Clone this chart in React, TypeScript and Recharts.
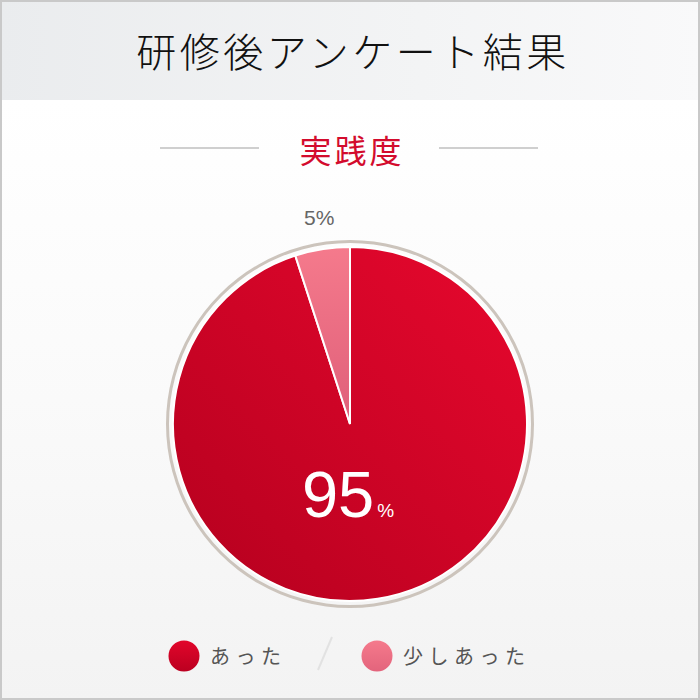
import { PieChart, Pie, Cell, Legend } from "recharts";

const title = "研修後アンケート結果";
const subtitle = "実践度";
const categories = ["あった", "少しあった"];
const values = [95, 5];
const ringValue = [1];

const fills = ["url(#gradMain)", "url(#gradSub)"];
const swatch = ["url(#gradMainDot)", "url(#gradSubDot)"];

const data = categories.map((name, i) => ({ name, value: values[i] }));
const ringData = ringValue.map((value) => ({ name: "ring", value }));

const RAD = Math.PI / 180;
const FONT = "'Noto Sans CJK JP', 'Noto Sans', sans-serif";

function renderLabel(props: any) {
  const { cx, cy, midAngle, index, value } = props;
  if (index === 0) {
    return (
      <text
        x={cx - 2}
        y={cy + 93}
        textAnchor="middle"
        fill="#ffffff"
        fontFamily="'Liberation Sans', Arial, sans-serif"
      >
        <tspan fontSize={65}>{value}</tspan>
        <tspan fontSize={19} dx={3}>%</tspan>
      </text>
    );
  }
  const r = 209;
  const x = cx + r * Math.cos(-midAngle * RAD);
  const y = cy + r * Math.sin(-midAngle * RAD);
  return (
    <text
      x={x + 2}
      y={y}
      textAnchor="middle"
      dominantBaseline="central"
      fill="#666"
      fontSize={21}
      fontFamily="'Liberation Sans', Arial, sans-serif"
    >
      {value}%
    </text>
  );
}

function LegendBody() {
  return (
    <div
      style={{
        display: "flex",
        alignItems: "center",
        fontFamily: FONT,
        fontSize: 20,
        color: "#555",
        letterSpacing: 5.5,
        height: 40,
        position: "relative",
      }}
    >
      {categories.map((name, i) => (
        <div
          key={name}
          style={{
            position: "absolute",
            left: i === 0 ? 168 : 361,
            top: 4,
            display: "flex",
            alignItems: "center",
          }}
        >
          <svg width={32} height={32} style={{ marginRight: 10 }}>
            <circle cx={16} cy={16} r={15.5} fill={swatch[i]} />
          </svg>
          <span style={{ lineHeight: "32px" }}>{name}</span>
        </div>
      ))}
      <svg
        width={20}
        height={40}
        style={{ position: "absolute", left: 315, top: 0 }}
      >
        <line x1={17} y1={1} x2={3} y2={34} stroke="#e2e2e2" strokeWidth={2} />
      </svg>
    </div>
  );
}

export default function App() {
  return (
    <div
      style={{
        position: "fixed",
        top: 0,
        left: 0,
        width: 700,
        height: 700,
        overflow: "hidden",
        background: "linear-gradient(180deg, #ffffff 100px, #fafafa 400px, #f3f3f3 700px)",
      }}
    >
      <div
        style={{
          position: "absolute",
          top: 0,
          left: 0,
          width: 700,
          height: 100,
          background: "linear-gradient(90deg, #eaecee 0%, #f3f4f5 60%, #f9f9fa 100%)",
        }}
      />
      <div
        style={{
          position: "absolute",
          top: 24,
          left: 0,
          width: 700,
          textAlign: "center",
          fontFamily: FONT,
          fontSize: 40,
          fontWeight: 300,
          lineHeight: "52px",
          letterSpacing: 3.5,
          color: "#111",
          paddingLeft: 3,
        }}
      >
        {title}
      </div>
      <div style={{ position: "absolute", top: 147, left: 160, width: 99, height: 2, background: "#cfcfcf" }} />
      <div style={{ position: "absolute", top: 147, left: 439, width: 99, height: 2, background: "#cfcfcf" }} />
      <div
        style={{
          position: "absolute",
          top: 128,
          left: 0,
          width: 700,
          textAlign: "center",
          fontFamily: FONT,
          fontSize: 32,
          lineHeight: "42px",
          letterSpacing: 3,
          color: "#d30b2d",
          paddingLeft: 2,
        }}
      >
        {subtitle}
      </div>
      <div style={{ position: "absolute", top: 0, left: 0 }}>
        <PieChart width={700} height={700} margin={{ top: 0, right: 0, bottom: 0, left: 0 }}>
          <defs>
            <linearGradient id="gradMain" x1="1" y1="0" x2="0" y2="1">
              <stop offset="0%" stopColor="#e8082e" />
              <stop offset="100%" stopColor="#b4001e" />
            </linearGradient>
            <linearGradient id="gradSub" x1="0" y1="0" x2="0" y2="1">
              <stop offset="0%" stopColor="#f57a8c" />
              <stop offset="100%" stopColor="#df5f79" />
            </linearGradient>
            <linearGradient id="gradMainDot" x1="0" y1="0" x2="0" y2="1">
              <stop offset="0%" stopColor="#e2062b" />
              <stop offset="100%" stopColor="#bb0020" />
            </linearGradient>
            <linearGradient id="gradSubDot" x1="0" y1="0" x2="0" y2="1">
              <stop offset="0%" stopColor="#f57a8c" />
              <stop offset="100%" stopColor="#e3647c" />
            </linearGradient>
          </defs>
          <Pie
            data={ringData}
            dataKey="value"
            cx={350}
            cy={424}
            innerRadius={181}
            outerRadius={184}
            stroke="none"
            fill="#ccc4bc"
            isAnimationActive={false}
          />
          <Pie
            data={data}
            dataKey="value"
            cx={350}
            cy={424}
            outerRadius={177}
            startAngle={90}
            endAngle={-270}
            stroke="#ffffff"
            strokeWidth={2}
            label={renderLabel}
            labelLine={false}
            isAnimationActive={false}
          >
            {data.map((d, i) => (
              <Cell key={d.name} fill={fills[i]} />
            ))}
          </Pie>
          <Legend
            content={<LegendBody />}
            wrapperStyle={{ top: 636, left: 0, width: 700 }}
          />
        </PieChart>
      </div>
      <div
        style={{
          position: "absolute",
          top: 0,
          left: 0,
          width: 700,
          height: 700,
          boxSizing: "border-box",
          border: "2px solid #c9c9c9",
          pointerEvents: "none",
        }}
      />
    </div>
  );
}
